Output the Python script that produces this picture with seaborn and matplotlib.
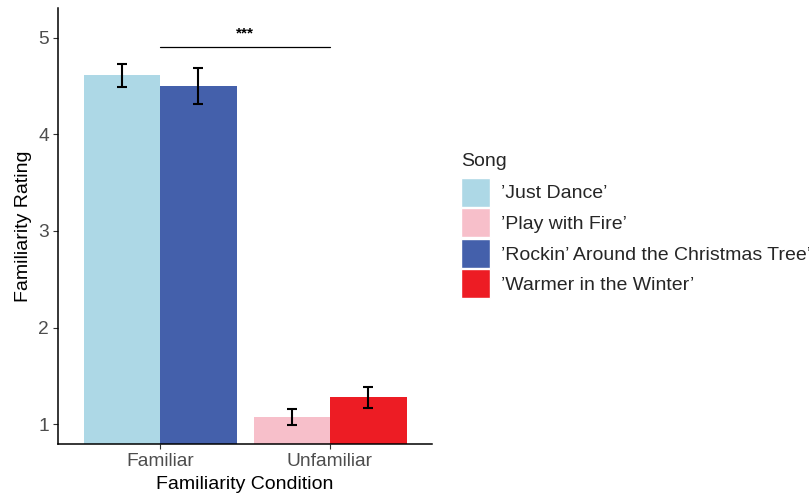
import matplotlib
matplotlib.use("Agg")
import matplotlib.pyplot as plt
import seaborn as sns
import pandas as pd
from matplotlib.patches import Patch

# ---- data ----
conditions = ["Familiar", "Familiar", "Unfamiliar", "Unfamiliar"]
slots = ["a", "b", "a", "b"]
songs = ["’Just Dance’", "’Rockin’ Around the Christmas Tree’",
         "’Play with Fire’", "’Warmer in the Winter’"]
ratings = [4.61, 4.50, 1.075, 1.28]
errors = [0.117, 0.185, 0.082, 0.11]
legend_order = ["’Just Dance’", "’Play with Fire’",
                "’Rockin’ Around the Christmas Tree’", "’Warmer in the Winter’"]
song_colors = {"’Just Dance’": "#ADD8E6", "’Play with Fire’": "#F7BFCA",
               "’Rockin’ Around the Christmas Tree’": "#4460AB",
               "’Warmer in the Winter’": "#ED1C24"}
sig_pair = ["Familiar", "Unfamiliar"]
sig_y = 4.9
sig_text_y = 4.97
sig_label = "***"
y_ticks = [1, 2, 3, 4, 5]

df = pd.DataFrame({"Condition": conditions, "Slot": slots, "Song": songs,
                   "Rating": ratings, "SE": errors})

sns.set_theme(style="ticks")
plt.rcParams["font.family"] = ["Liberation Sans", "DejaVu Sans"]

fig = plt.figure(figsize=(8.09, 4.95), dpi=100)
ax = fig.add_axes([58/809, 1-444/495, (432-58)/809, (444-8.3)/495])

cat_order = ["Familiar", "Unfamiliar"]
sns.barplot(data=df, x="Condition", y="Rating", hue="Slot", order=cat_order,
            hue_order=["a", "b"], width=0.9, gap=0, errorbar=None,
            dodge=True, legend=False, ax=ax, saturation=1)

# recolor bars per song and add error bars
patches = [p for p in ax.patches if p.get_height() > 0]
for p in patches:
    cx = p.get_x() + p.get_width() / 2
    h = p.get_height()
    row = df[(df["Rating"] - h).abs() < 1e-9].iloc[0]
    p.set_facecolor(song_colors[row["Song"]])
    p.set_edgecolor("none")
    ax.errorbar(cx, row["Rating"], yerr=row["SE"], fmt="none", ecolor="black",
                elinewidth=1.5, capsize=3.3, capthick=1.5, zorder=5)

# significance bracket
x0 = cat_order.index(sig_pair[0])
x1 = cat_order.index(sig_pair[1])
ax.plot([x0, x1], [sig_y, sig_y], color="black", lw=0.9)
ax.text((x0 + x1) / 2, sig_text_y, sig_label, ha="center", va="bottom",
        fontsize=11, fontweight="bold", color="black")

ax.set_xlim(-0.6, 1.6)
ax.set_ylim(0.795, 5.305)
ax.set_yticks(y_ticks)
ax.set_xlabel("Familiarity Condition", fontsize=14, color="black", labelpad=4.5)
ax.set_ylabel("Familiarity Rating", fontsize=14, color="black", labelpad=4.5)
ax.tick_params(axis="both", labelsize=13.8, labelcolor="#4D4D4D", color="#333333",
               length=3.5, width=0.8, pad=3)
for s in ["top", "right"]:
    ax.spines[s].set_visible(False)
for s in ["left", "bottom"]:
    ax.spines[s].set_linewidth(1.1)
    ax.spines[s].set_color("black")

handles = [Patch(facecolor=song_colors[s], edgecolor="white", linewidth=1.0, label=s)
           for s in legend_order]
leg = fig.legend(handles=handles, title="Song", loc="upper left",
                 bbox_to_anchor=(461/809, 1-153/495), frameon=False,
                 fontsize=14, title_fontsize=14, handlelength=1.5,
                 handleheight=1.92, labelspacing=0.08, handletextpad=0.55,
                 borderpad=0, borderaxespad=0)
leg._legend_box.align = "left"
leg._legend_box.sep = 5.5

fig.savefig("out.png", dpi=100)
